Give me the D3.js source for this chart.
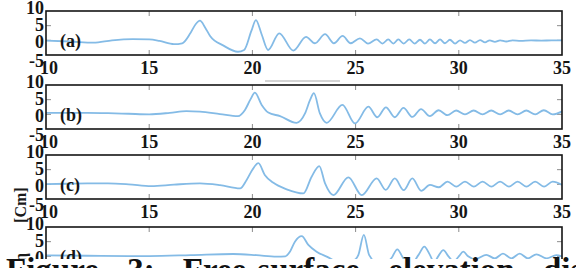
<!DOCTYPE html>
<html><head><meta charset="utf-8">
<script src="https://cdn.jsdelivr.net/npm/d3@7"></script>
<style>body{margin:0;background:#fff}svg{display:block}</style>
</head><body>
<svg id="c" width="576" height="268"></svg>
<script>
const panelLabels = ["(a)", "(b)", "(c)", "(d)"];
const xTicks = [10, 15, 20, 25, 30, 35];
const yTicks = [-5, 0, 5, 10];
const yLabelText = ["η", "[Cm]"];
const captionText = "Figure 3: Free-surface elevation distribution";

const tA = [10, 11.2, 12.3, 13.2, 14.2, 15.0, 15.5, 16.2, 16.6, 17.0, 17.25, 17.46, 17.7, 17.95, 18.6, 19.3, 19.6, 19.95, 20.17, 20.45, 20.76, 21.3, 21.98, 22.6, 23.03, 23.52, 23.95, 24.37, 24.76, 25.21, 25.6, 26.02, 26.3, 26.58, 26.83, 27.07, 27.33, 27.6, 27.86, 28.12, 28.36, 28.6, 28.85, 29.09, 29.33, 29.57, 29.82, 30.06, 30.3, 30.54, 30.78, 31.03, 31.27, 31.5, 31.75, 32.0, 32.3, 32.6, 33.0, 33.5, 34.0, 34.5, 35.0];
const etaA = [-0.1, -0.4, -0.8, 0.0, 0.4, 0.3, -0.2, -1.3, -1.0, 2.5, 5.5, 6.7, 4.5, 1.5, -1.8, -3.9, -3.3, 3.2, 6.9, 2.0, -3.3, 2.4, -3.5, 1.2, -1.0, 2.1, -1.0, 1.5, -1.0, 0.7, -1.1, 0.3, -1.1, 0.3, -1.1, 0.3, -1.1, 0.3, -1.1, 0.2, -1.1, 0.3, -1.0, 0.3, -1.0, 0.2, -1.1, 0.0, -0.9, 0.1, -0.8, 0.1, -0.7, 0.0, -0.5, 0.0, -0.4, 0.0, -0.2, 0.0, -0.1, 0.0, 0.0];

const tB = [10, 11, 12, 13, 14, 15, 16, 16.8, 17.46, 18.43, 19.3, 19.64, 19.9, 20.12, 20.45, 20.77, 21.34, 22.14, 22.55, 22.8, 22.98, 23.27, 23.6, 24.36, 24.97, 25.62, 26.05, 26.47, 26.9, 27.32, 27.75, 28.17, 28.6, 29.02, 29.45, 29.87, 30.3, 30.72, 31.15, 31.57, 32.0, 32.42, 32.85, 33.27, 33.7, 34.12, 34.55, 35];
const etaB = [0.5, 0.5, 0.5, 0.4, 0.2, 0.0, 0.5, 1.1, 0.9, 0.1, -0.6, 1.5, 5.0, 7.4, 3.2, 0.6, -0.6, -2.9, 0.3, 5.0, 7.2, 0.3, -2.9, 3.2, -3.1, 2.6, -1.0, 2.4, -1.0, 2.2, -0.9, 1.8, -0.6, 1.4, -0.3, 1.3, 0.0, 1.3, 0.0, 1.3, 0.0, 1.3, 0.0, 1.3, 0.0, 1.4, 0.0, 1.0];

const tC = [10, 11, 12, 13, 14, 15.1, 16.2, 17.46, 18.43, 19.4, 19.72, 20.0, 20.29, 20.6, 21.0, 21.66, 22.47, 22.87, 23.24, 23.52, 23.92, 24.65, 25.3, 26.02, 26.46, 26.9, 27.33, 27.75, 28.18, 28.6, 29.03, 29.45, 29.88, 30.3, 30.73, 31.15, 31.58, 32.0, 32.43, 32.85, 33.28, 33.7, 34.13, 34.55, 35];
const etaC = [0.1, 0.2, 0.3, 0.3, 0.0, -0.6, -0.1, 0.3, -0.3, -1.4, 1.5, 5.0, 7.2, 3.2, 0.6, -1.7, -3.1, 2.6, 6.2, 0.3, -3.7, 2.4, -3.7, 2.0, -1.9, 2.0, -2.0, 2.0, -2.2, -0.2, -1.0, 0.9, -0.8, 0.9, -0.8, 0.9, -0.8, 0.9, -0.8, 0.9, -0.8, 0.9, -0.8, 0.9, -0.2];

const tD = [10, 12, 14, 15, 17, 19.07, 20.2, 21.17, 21.6, 21.82, 22.06, 22.39, 22.71, 23.11, 23.6, 24.4, 25.0, 25.13, 25.4, 25.66, 26.2, 26.75, 27.02, 27.3, 27.7, 28.05, 28.33, 28.6, 28.8, 29.0, 29.25, 29.5, 29.75, 30.0, 30.22, 30.45, 30.8, 31.33, 31.75, 32.14, 32.55, 32.95, 33.35, 33.76, 34.25, 34.73, 35];
const etaD = [0.3, 0.2, 0.1, 0.1, 0.4, 0.8, 0.4, -0.1, 0.0, 1.6, 5.0, 6.9, 3.9, 1.6, -0.1, -2.5, -1.0, 0.4, 7.3, 0.4, -3.0, -0.5, 2.4, -0.5, -2.5, 0.5, 3.3, 0.5, -2.0, 0.0, 2.1, 0.0, -1.8, 0.0, 1.6, 0.0, -1.0, 0.5, -0.7, 0.9, -0.7, 0.9, -0.7, 0.7, -0.7, 0.4, 0.0];

const series = [[tA, etaA], [tB, etaB], [tC, etaC], [tD, etaD]];

const svg = d3.select("#c");
const font = "'Liberation Serif','Times New Roman',serif";
const x = d3.scaleLinear().domain([10, 35]).range([46, 562]);
const panelTops = [11, 85, 155, 227];
const PH = 44;
const tickC = "#8c8c8c";
const yLabOff = {10: -3, 5: -1, 0: 1.5, "-5": 6};

// faint grey artefact bar between panels (a) and (b)
svg.append("line").attr("x1", 265).attr("x2", 340).attr("y1", 81).attr("y2", 81)
  .attr("stroke", "#d4d4d4").attr("stroke-width", 2);

panelTops.forEach((top, i) => {
  const y = d3.scaleLinear().domain([-5, 10]).range([top + PH, top]);
  const g = svg.append("g");
  g.append("clipPath").attr("id", "cp" + i).append("rect")
    .attr("x", x(10)).attr("y", top).attr("width", x(35) - x(10)).attr("height", PH);

  const inner = xTicks.slice(1, -1);
  g.selectAll(".xtt").data(inner).join("line")
    .attr("x1", d => x(d)).attr("x2", d => x(d)).attr("y1", top).attr("y2", top + 5)
    .attr("stroke", tickC).attr("stroke-width", 1);
  g.selectAll(".xtb").data(inner).join("line")
    .attr("x1", d => x(d)).attr("x2", d => x(d)).attr("y1", top + PH).attr("y2", top + PH - 5)
    .attr("stroke", tickC).attr("stroke-width", 1);
  const yin = yTicks.slice(1, -1);
  g.selectAll(".ytl").data(yin).join("line")
    .attr("x1", x(10)).attr("x2", x(10) + 5).attr("y1", d => y(d)).attr("y2", d => y(d))
    .attr("stroke", tickC).attr("stroke-width", 1);
  g.selectAll(".ytr").data(yin).join("line")
    .attr("x1", x(35)).attr("x2", x(35) - 5).attr("y1", d => y(d)).attr("y2", d => y(d))
    .attr("stroke", tickC).attr("stroke-width", 1);

  const data = series[i][0].map((t, k) => [t, series[i][1][k]]);
  g.append("path").datum(data)
    .attr("clip-path", `url(#cp${i})`)
    .attr("d", d3.line().x(d => x(d[0])).y(d => y(d[1])).curve(d3.curveMonotoneX))
    .attr("fill", "none").attr("stroke", "#84bbe6").attr("stroke-width", 1.8)
    .attr("stroke-linejoin", "round");

  g.append("rect").attr("x", x(10)).attr("y", top).attr("width", x(35) - x(10)).attr("height", PH)
    .attr("fill", "none").attr("stroke", "#151515").attr("stroke-width", 1.6);

  g.append("text").attr("x", x(10) + 14).attr("y", top + 36)
    .attr("font-family", font).attr("font-weight", "bold").attr("font-size", 18)
    .attr("fill", "#151515").text(panelLabels[i]);

  g.selectAll(".yl").data(yTicks).join("text")
    .attr("x", x(10) - 2).attr("y", d => y(d) + yLabOff[d])
    .attr("dominant-baseline", "central").attr("text-anchor", "end")
    .attr("font-family", font).attr("font-weight", "bold").attr("font-size", 18)
    .attr("fill", "#151515").text(d => d);

  g.selectAll(".xl").data(xTicks).join("text")
    .attr("x", d => x(d) + (d === 10 ? 3 : 0)).attr("y", top + PH + 13)
    .attr("dominant-baseline", "central").attr("text-anchor", "middle")
    .attr("font-family", font).attr("font-weight", "bold").attr("font-size", 18)
    .attr("fill", "#151515").text(d => d);
});

// y-axis title
const yt = svg.append("text").attr("transform", "translate(26,262) rotate(-90)")
  .attr("font-family", font).attr("font-weight", "bold").attr("font-size", 16).attr("fill", "#1a1a1a");
yt.append("tspan").text(yLabelText[0]);
yt.append("tspan").attr("dx", 30).text(yLabelText[1]);

// caption band
svg.append("rect").attr("x", 0).attr("y", 259).attr("width", 576).attr("height", 9).attr("fill", "#fff");
svg.append("text").attr("x", 6).attr("y", 281)
  .attr("font-family", font).attr("font-weight", "bold").attr("font-size", 33)
  .attr("word-spacing", 20).attr("fill", "#111").text(captionText);
</script>
</body></html>
